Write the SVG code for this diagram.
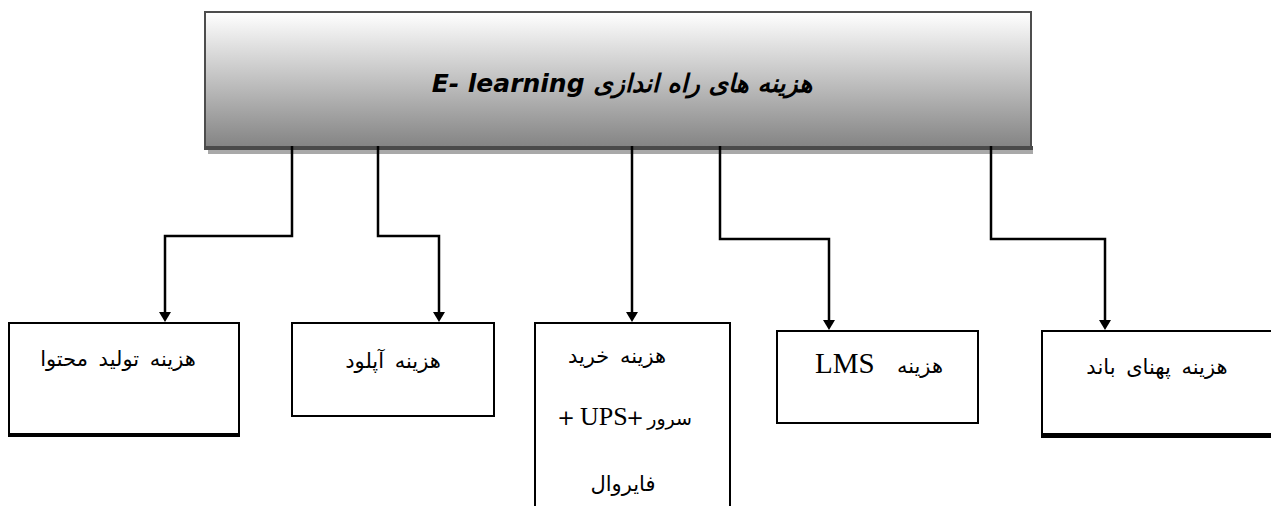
<svg xmlns="http://www.w3.org/2000/svg" width="1271" height="506" viewBox="0 0 1271 506">
<style>
.box{fill:#fff;stroke:#000;stroke-width:2}
.fa{font-family:"DejaVu Sans",sans-serif;font-size:21px;word-spacing:4px;fill:#000}
.conn{fill:none;stroke:#000;stroke-width:2.5}
</style>
<defs>
<linearGradient id="g" x1="0" y1="0" x2="0" y2="1">
<stop offset="0" stop-color="#ffffff"/>
<stop offset="1" stop-color="#838383"/>
</linearGradient>
<marker id="arr" markerUnits="userSpaceOnUse" viewBox="0 0 10 12" markerWidth="10" markerHeight="12" refX="2" refY="6" orient="auto">
<path d="M0,0 L10,6 L0,12 z" fill="#000"/>
</marker>
</defs>
<rect width="1271" height="506" fill="#fff"/>
<g id="root">
<rect x="208" y="150" width="825" height="4" fill="#a9a9a9"/>
<rect x="205" y="12" width="826" height="136" fill="url(#g)" stroke="#4d4d4d" stroke-width="2"/>
<rect x="204" y="146" width="829" height="4" fill="#4a4a4a"/>
<text x="622" y="92" text-anchor="middle" direction="rtl" font-family="DejaVu Sans,sans-serif" font-size="25" font-weight="bold" font-style="italic" fill="#000">هزینه های راه اندازی E- learning</text>
</g>
<g id="connectors">
<path class="conn" d="M292,146 V236 H165 V314" marker-end="url(#arr)"/>
<path class="conn" d="M378,146 V236 H439 V314" marker-end="url(#arr)"/>
<path class="conn" d="M632,146 V314" marker-end="url(#arr)"/>
<path class="conn" d="M720,146 V239 H829 V322" marker-end="url(#arr)"/>
<path class="conn" d="M991,146 V239 H1105 V322" marker-end="url(#arr)"/>
</g>
<g id="n1">
<rect class="box" x="9" y="323" width="230" height="112"/>
<rect x="8" y="433" width="232" height="4" fill="#000"/>
<text class="fa" x="118" y="366" text-anchor="middle" direction="rtl">هزینه تولید محتوا</text>
</g>
<g id="n2">
<rect class="box" x="292" y="323" width="202" height="93"/>
<text class="fa" x="393" y="368" text-anchor="middle" direction="rtl">هزینه آپلود</text>
</g>
<g id="n3">
<rect class="box" x="535" y="323" width="195" height="190"/>
<text class="fa" x="617" y="363" text-anchor="middle" direction="rtl">هزینه خرید</text>
<text class="fa" x="566" y="425" text-anchor="middle">+</text>
<text x="580" y="425" font-family="Liberation Serif, DejaVu Serif, serif" font-size="26" fill="#000">UPS</text>
<text class="fa" x="635" y="425" text-anchor="middle">+</text>
<text class="fa" x="692" y="425" text-anchor="end" style="font-size:19px">سرور</text>
<text class="fa" x="623" y="491" text-anchor="middle" direction="rtl">فایروال</text>
</g>
<g id="n4">
<rect class="box" x="777" y="331" width="201" height="92"/>
<text x="815" y="373" font-family="Liberation Serif, DejaVu Serif, serif" font-size="29" fill="#000">LMS</text>
<text class="fa" x="943" y="373" text-anchor="end">هزینه</text>
</g>
<g id="n5">
<rect class="box" x="1042" y="331" width="240" height="104"/>
<rect x="1041" y="433" width="240" height="5" fill="#000"/>
<text class="fa" x="1157" y="374" text-anchor="middle" direction="rtl">هزینه پهنای باند</text>
</g>
</svg>
